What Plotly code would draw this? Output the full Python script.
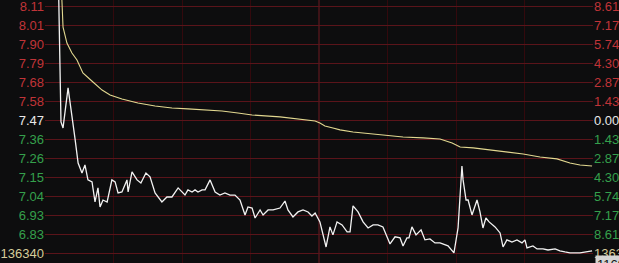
import plotly.graph_objects as go

# ---- data (minute index within the trading day, price) ----
prev_close = 7.47
price_t = [0, 3, 6, 7.0, 7.9, 10.1, 13.1, 14.5, 16.2, 17.5, 18.8, 20.6, 21.9, 23.2, 24.1, 25.4, 27.2,
           29.3, 30.7, 32.0, 33.7, 35.9, 36.4, 38.1, 40.3, 42.0, 44.2, 46.0, 48.2, 51.2, 53.4, 55.6,
           58.3, 61.3, 62.6, 64.4, 65.7, 67.0, 68.8, 70.1, 72.3, 74.5, 76.6, 78.8, 81.0, 83.2, 85.4,
           87.6, 88.9, 90.7, 92.0, 94.2, 95.5, 97.7, 99.9, 102.9, 105.1, 106.4, 108.6, 110.8, 113.0,
           115.2, 116.9, 118.3, 120.4, 121.3, 123.1, 124.8, 126.1, 127.9, 130.1, 132.3, 133.6, 134.9,
           137.1, 139.3, 141.5, 143.7, 145.8, 148.0, 151.1, 153.3, 155.5, 156.8, 158.5, 159.4, 160.7,
           162.5, 164.7, 166.4, 168.6, 170.8, 173.0, 176.5, 179.1, 180.9, 182.2, 182.6, 183.1, 184.4,
           185.3, 187.0, 189.2, 190.5, 191.8, 193.1, 194.5, 197.1, 199.3, 200.6, 202.3, 204.5, 206.7,
           208.9, 210.2, 211.1, 213.7, 215.5, 218.1, 220.3, 223.4, 225.5, 227.7, 229.9, 234.3, 237.4,
           239.6]
price = [8.18, 8.20, 8.17, 7.462, 7.428, 7.653, 7.372, 7.231, 7.175, 7.220, 7.136, 7.125, 7.012, 7.091,
         6.984, 7.023, 7.012, 7.136, 7.125, 7.063, 7.068, 7.136, 7.068, 7.181, 7.136, 7.119, 7.175,
         7.153, 7.063, 7.012, 7.040, 7.040, 7.091, 7.051, 7.080, 7.068, 7.080, 7.068, 7.080, 7.080,
         7.136, 7.068, 7.051, 7.063, 7.051, 7.051, 7.023, 6.939, 6.984, 6.978, 6.922, 6.967, 6.939,
         6.967, 6.967, 6.978, 7.017, 6.967, 6.928, 6.956, 6.967, 6.956, 6.933, 6.950, 6.900, 6.855,
         6.759, 6.872, 6.827, 6.900, 6.883, 6.844, 6.844, 6.990, 6.956, 6.900, 6.866, 6.883, 6.883,
         6.872, 6.776, 6.816, 6.810, 6.765, 6.810, 6.810, 6.872, 6.827, 6.855, 6.799, 6.804, 6.782,
         6.782, 6.765, 6.726, 6.866, 7.136, 7.214, 7.136, 7.023, 7.023, 6.939, 7.023, 6.956, 6.866,
         6.922, 6.900, 6.872, 6.838, 6.759, 6.799, 6.787, 6.799, 6.782, 6.799, 6.754, 6.765, 6.748,
         6.748, 6.742, 6.748, 6.737, 6.731, 6.726, 6.726, 6.731, 6.737]

avg_t = [0, 3, 6, 7.4, 7.9, 9.6, 11.8, 14.0, 16.6, 18.8, 21.0, 25.0, 28.5, 33.7, 40.7, 48.2, 55.6, 62.6,
         70.1, 77.5, 84.5, 90.7, 102.9, 111.7, 118.3, 120.4, 122.6, 126.1, 129.2, 134.9, 148.0, 156.8,
         165.6, 173.0, 178.3, 181.8, 187.5, 194.9, 202.3, 209.4, 216.8, 224.2, 229.9, 234.3, 239.6]
avg = [8.19, 8.19, 8.18, 8.147, 7.995, 7.905, 7.849, 7.810, 7.737, 7.714, 7.686, 7.641, 7.613, 7.591,
       7.568, 7.551, 7.540, 7.535, 7.529, 7.523, 7.512, 7.501, 7.490, 7.478, 7.467, 7.456, 7.439,
       7.428, 7.417, 7.405, 7.389, 7.377, 7.372, 7.366, 7.344, 7.321, 7.316, 7.304, 7.293, 7.282,
       7.265, 7.254, 7.231, 7.220, 7.214]

price_levels = [8.11, 8.01, 7.90, 7.79, 7.68, 7.58, 7.47, 7.36, 7.26, 7.15, 7.04, 6.93, 6.83]
pct_labels = ["8.61", "7.17", "5.74", "4.30", "2.87", "1.43", "0.00", "1.43", "2.87", "4.30",
              "5.74", "7.17", "8.61"]
volume_label = "136340"
cursor_label = "116987"

# ---- styling ----
RED = "#c03438"
GREEN = "#35a04c"
WHITE = "#e8e8e8"
BEIGE = "#d6cc9a"
BG = "#0d0d0e"
HGRID = "#5a141a"
VGRID = "#33090d"

step = (price_levels[0] - prev_close) / 6.0
tickvals = [prev_close + (6 - k) * step for k in range(13)] + [prev_close - 7 * step]


def colored(labels):
    out = []
    for k, lab in enumerate(labels):
        c = RED if k < 6 else (WHITE if k == 6 else GREEN)
        out.append(f'<span style="color:{c}">{lab}</span>')
    out.append(f'<span style="color:{BEIGE}">{volume_label}</span>')
    return out


left_text = colored([f"{v:.2f}" for v in price_levels])
right_text = colored(pct_labels)

yrange = [prev_close - 0.801, prev_close + 0.677]

fig = go.Figure()
fig.add_trace(go.Scatter(x=avg_t, y=avg, mode="lines", yaxis="y2",
                         line=dict(color="#e2d890", width=1.1), hoverinfo="skip"))
fig.add_trace(go.Scatter(x=price_t, y=price, mode="lines",
                         line=dict(color="#f2f2f2", width=1.3), hoverinfo="skip"))

fig.add_shape(type="line", xref="x", yref="paper", x0=120, x1=120, y0=0, y1=1,
              line=dict(color="#6e1a20", width=1), layer="below")

fig.update_layout(
    width=619, height=263,
    margin=dict(l=45, r=26, t=0, b=0, autoexpand=False),
    paper_bgcolor=BG, plot_bgcolor=BG,
    showlegend=False,
    font=dict(family="Liberation Sans, Arial, sans-serif", size=13),
    xaxis=dict(range=[0, 240], tickvals=[30, 60, 90, 150, 180, 210], showticklabels=False,
               showgrid=True, gridcolor=VGRID, gridwidth=1, zeroline=False,
               showline=True, linecolor="#5a141a", mirror=True, ticks="", automargin=False),
    yaxis=dict(range=yrange, tickvals=tickvals, ticktext=left_text, showgrid=True,
               gridcolor=HGRID, gridwidth=1, zeroline=False, ticks="", side="left",
               tickfont=dict(size=13), showline=False, automargin=False,
               ticklabeloverflow="allow"),
    yaxis2=dict(range=yrange, tickvals=tickvals, ticktext=right_text, overlaying="y",
                side="right", showgrid=False, zeroline=False, ticks="",
                tickfont=dict(size=13), showline=False, automargin=False,
                ticklabeloverflow="allow"),
)

fig.add_annotation(xref="paper", yref="paper", x=1, y=0, xanchor="left", yanchor="top",
                   xshift=2, yshift=8, text=cursor_label, showarrow=False,
                   font=dict(color="#111111", size=13), bgcolor="#d4d4d4", borderpad=1)

fig.write_html("out.html", config={"displayModeBar": False})
